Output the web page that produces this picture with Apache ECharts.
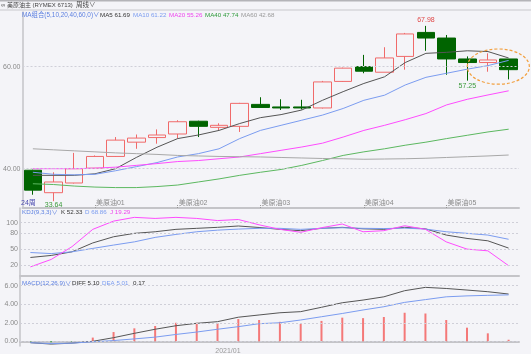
<!DOCTYPE html>
<html>
<head>
<meta charset="utf-8">
<script src="https://cdn.jsdelivr.net/npm/echarts@6/dist/echarts.min.js"></script>
<style>
  html, body { margin: 0; padding: 0; background: #f4f4f8; }
  #chart { width: 531px; height: 354px; }
</style>
</head>
<body>
<div id="chart"></div>
<script>
// 24 weekly bars
const weeks = ['W01','W02','W03','W04','W05','W06','W07','W08','W09','W10','W11','W12',
               'W13','W14','W15','W16','W17','W18','W19','W20','W21','W22','W23','W24']
const monthLabels = ['','','','美原油01','','','','美原油02','','','','美原油03',
                     '','','','','美原油04','','','','美原油05','','','']

const opens  = [39.7, 35.3, 37.2, 40.1, 42.4, 45.2, 46.1, 46.8, 49.3, 48.1, 48.3, 52.6,
                52.1, 52.1, 51.9, 57.1, 60.0, 58.9, 62.0, 66.7, 65.6, 61.5, 60.8, 61.5]
const closes = [35.8, 37.4, 40.0, 42.4, 45.6, 46.0, 46.6, 49.2, 48.3, 48.5, 52.8, 52.0,
                51.9, 51.9, 57.0, 59.7, 59.1, 61.7, 66.4, 65.6, 61.5, 60.8, 61.3, 59.4]
const lows   = [34.9, 33.64, 37.1, 40.0, 42.3, 43.9, 44.9, 45.9, 46.2, 47.5, 47.2, 52.0,
                51.5, 51.6, 51.8, 57.0, 58.7, 58.9, 59.4, 63.1, 58.4, 57.25, 59.0, 57.5]
const highs  = [39.8, 39.3, 43.1, 42.6, 46.2, 46.7, 47.7, 49.5, 49.4, 48.9, 52.9, 54.0,
                53.6, 53.5, 57.2, 59.8, 62.3, 63.8, 66.6, 67.98, 66.2, 62.0, 62.6, 61.5]

const ma5  = [38.7, 38.7, 38.7, 39.0, 40.0, 42.2, 44.2, 45.9, 46.6, 47.5, 48.85, 50.0,
              50.6, 51.5, 53.4, 55.1, 56.7, 58.0, 60.8, 62.6, 62.8, 63.1, 62.95, 61.69]
const ma10 = [39.3, 38.9, 38.8, 38.9, 39.6, 40.4, 41.2, 42.3, 42.95, 43.9, 45.9, 47.5,
              48.5, 49.5, 50.5, 51.8, 53.4, 54.4, 56.4, 57.9, 58.7, 59.5, 60.2, 61.22]
const ma20 = [40.0, 40.0, 40.0, 40.1, 40.3, 40.65, 41.0, 41.4, 41.6, 41.95, 42.3, 42.95,
              43.6, 44.25, 45.0, 46.2, 47.5, 48.5, 49.6, 50.8, 52.5, 53.6, 54.45, 55.26]
const ma40 = [37.05, 36.9, 36.6, 36.4, 36.3, 36.3, 36.5, 36.8, 37.4, 38.0, 38.7, 39.3,
              39.85, 40.65, 41.6, 42.6, 43.3, 43.9, 44.6, 45.2, 45.9, 46.55, 47.2, 47.74]
const ma60 = [43.9, 43.7, 43.5, 43.3, 43.1, 42.95, 42.8, 42.6, 42.5, 42.4, 42.35, 42.3,
              42.2, 42.1, 42.0, 41.95, 41.85, 41.9, 41.95, 42.05, 42.2, 42.35, 42.5, 42.68]

const kLine = [34.7, 38.5, 45.3, 62, 73.6, 80, 83, 87.5, 89.4, 91.3, 93.8, 91,
               87.5, 85, 89.4, 91.3, 88.5, 87.5, 91.3, 88.5, 76.8, 70.5, 66, 52.33]
const dLine = [44, 42, 45.3, 51.7, 58, 64, 72.4, 78, 83, 86, 88, 89.4,
               89.4, 87.5, 89.4, 90.5, 89.4, 89, 89.8, 88, 83, 80, 76.8, 68.86]
const jLine = [17, 31, 55, 87.5, 103, 110, 108, 110, 108, 104, 106, 96,
               87.5, 82, 90.6, 97.5, 83, 85, 94.3, 87.5, 64, 50.4, 47.2, 19.29]

const diff = [-0.15, -0.3, -0.2, 0, 0.39, 0.86, 1.3, 1.68, 1.94, 2.12, 2.6, 2.84,
              3.08, 3.2, 3.67, 4.16, 4.45, 4.8, 5.46, 5.82, 5.7, 5.53, 5.35, 5.10]
const dea  = [-0.15, -0.25, -0.2, -0.05, 0.08, 0.26, 0.45, 0.74, 1.0, 1.3, 1.58, 1.9,
              2.0, 2.3, 2.65, 3.0, 3.38, 3.73, 4.2, 4.5, 4.8, 4.9, 4.96, 5.01]
const macd = [-0.05, -0.1, -0.05, 0.4, 1.0, 1.4, 1.65, 2.0, 2.0, 1.95, 2.4, 2.3,
              2.1, 1.87, 2.2, 2.55, 2.5, 2.62, 3.08, 3.0, 2.3, 1.47, 0.86, 0.17]

const priceTicks = [40, 60]
const kdjTicks = [100, 80, 50, 20]
const macdTicks = [6, 4, 2, 0]

const FONT = '"Liberation Sans", "Noto Sans CJK SC", sans-serif'
const C_DARK = '#555555'
const C_BLUE = '#7b9cf0'
const C_PINK = '#ff4cff'
const C_GREEN = '#5cb860'
const C_GRAY = '#a8a8a8'
const C_UP = '#f06a6a'
const C_DOWN = '#006400'

const chart = echarts.init(document.getElementById('chart'), null, { width: 531, height: 354 })

function gridLines(ticks) {
  return {
    silent: true,
    symbol: 'none',
    label: { show: false },
    lineStyle: { color: '#cfcfd8', type: [2, 2], width: 1 },
    data: ticks.map((v) => ({ yAxis: v })),
  }
}

function line(name, data, color, axis, extra) {
  return Object.assign({
    name, type: 'line', data,
    xAxisIndex: axis, yAxisIndex: axis,
    showSymbol: false, smooth: false, z: 4,
    lineStyle: { color, width: 1 },
    itemStyle: { color },
  }, extra || {})
}

function yAxis(i, min, max, ticks, fmt) {
  return {
    type: 'value', gridIndex: i, min, max,
    axisLine: { show: true, lineStyle: { color: '#c4c4c8', width: 1.5 } },
    axisTick: { show: false },
    splitLine: { show: false },
    axisLabel: {
      customValues: ticks, color: '#8a8a8a', fontSize: 7, fontFamily: FONT, margin: 2,
      formatter: fmt,
    },
  }
}

function xAxis(i, withLabels) {
  return {
    type: 'category', gridIndex: i, data: weeks, boundaryGap: true,
    axisLine: { show: true, lineStyle: { color: '#c4c4c8', width: 2 } },
    axisTick: withLabels ? {
      show: true, inside: true, alignWithLabel: true, length: 4,
      interval: (idx) => monthLabels[idx] !== '',
      lineStyle: { color: '#999', type: [1, 1] },
    } : { show: false },
    axisLabel: withLabels ? {
      inside: true, interval: 0, align: 'left', color: '#8a8a8a', fontSize: 7,
      fontFamily: FONT, margin: 1, padding: [0, 0, 0, 1],
      formatter: (v, idx) => monthLabels[idx],
    } : { show: false },
  }
}

const option = {
  backgroundColor: '#f4f4f8',
  animation: false,
  grid: [
    { left: 20, right: 12, top: 12, height: 196 },
    { left: 20, right: 12, top: 208, height: 70 },
    { left: 20, right: 12, top: 278, height: 68 },
  ],
  xAxis: [xAxis(0, true), xAxis(1, false), xAxis(2, false)],
  yAxis: [
    yAxis(0, 32.3, 70.7, priceTicks, (v) => v.toFixed(2)),
    yAxis(1, -3.85, 127.6, kdjTicks, (v) => String(v)),
    yAxis(2, -0.507, 6.83, macdTicks, (v) => v.toFixed(2)),
  ],
  series: [
    {
      name: 'K', type: 'candlestick', xAxisIndex: 0, yAxisIndex: 0, z: 2,
      data: opens.map((o, i) => [o, closes[i], lows[i], highs[i]]),
      barWidth: 18,
      itemStyle: {
        color: 'rgba(0,0,0,0)', color0: C_DOWN,
        borderColor: C_UP, borderColor0: C_DOWN, borderWidth: 1,
      },
      markLine: gridLines(priceTicks),
      markPoint: {
        symbol: 'circle', symbolSize: 1,
        itemStyle: { color: 'rgba(0,0,0,0)' },
        label: { fontSize: 7, fontFamily: FONT },
        data: [
          { coord: [19, highs[19]], value: highs[19],
            label: { position: 'top', distance: 2, color: '#e04848', formatter: highs[19].toFixed(2) } },
          { coord: [21, lows[21]], value: lows[21],
            label: { position: 'bottom', distance: 1, color: '#3a9a3a', formatter: lows[21].toFixed(2) } },
          { coord: [1, lows[1]], value: lows[1],
            label: { position: 'bottom', distance: 0, color: '#3a9a3a', formatter: lows[1].toFixed(2) } },
        ],
      },
    },
    line('MA5', ma5, C_DARK, 0),
    line('MA10', ma10, C_BLUE, 0),
    line('MA20', ma20, C_PINK, 0),
    line('MA40', ma40, C_GREEN, 0),
    line('MA60', ma60, C_GRAY, 0),
    line('K', kLine, C_DARK, 1, { markLine: gridLines(kdjTicks) }),
    line('D', dLine, C_BLUE, 1),
    line('J', jLine, C_PINK, 1),
    {
      name: 'MACD', type: 'bar', xAxisIndex: 2, yAxisIndex: 2, data: macd, barWidth: 2,
      itemStyle: { color: (p) => (p.value >= 0 ? '#f47878' : '#2e9a3a') },
      markLine: gridLines(macdTicks),
    },
    line('DIFF', diff, C_DARK, 2),
    line('DEA', dea, C_BLUE, 2),
  ],
}

chart.setOption(option)

// text overlays and the dashed highlight ring
function txt(x, y, text, fill, size, align) {
  return {
    type: 'text', x, y, z: 10, silent: true,
    style: { text, fill, fontSize: size || 7, fontFamily: FONT, align: align || 'left', verticalAlign: 'middle' },
  }
}

const p22 = chart.convertToPixel({ xAxisIndex: 0, yAxisIndex: 0 }, [22, 60])
const p23 = chart.convertToPixel({ xAxisIndex: 0, yAxisIndex: 0 }, [23, 63.45])
const band = p23[0] - p22[0]
const p9 = chart.convertToPixel({ xAxisIndex: 2 }, 9)
const p10 = chart.convertToPixel({ xAxisIndex: 2 }, 10)

const graphics = [
  { type: 'rect', shape: { x: 0, y: 0, width: 531, height: 1.5 }, style: { fill: '#b4b4b8' }, silent: true },
  { type: 'rect', shape: { x: 0, y: 9.5, width: 531, height: 1 }, style: { fill: '#c8c8cc' }, silent: true },
  txt(1, 5.5, '∞ 美原油主 (RYMEX 6713)', '#444', 6),
  txt(76, 5.5, '周线∨', '#444', 6.5),
  txt(22, 15, 'MA组合(5,10,20,40,60,0)∨', '#5b7fe0', 6.4),
  txt(100, 15, 'MA5 61.69', '#333', 6.2),
  txt(133, 15, 'MA10 61.22', C_BLUE, 6.2),
  txt(169, 15, 'MA20 55.26', '#ee44ee', 6.2),
  txt(205, 15, 'MA40 47.74', '#2e9a3a', 6.2),
  txt(241, 15, 'MA60 42.68', '#999', 6.2),
  txt(21, 203.5, '24周', '#4b4bb0'),
  txt(22, 212.5, 'KDJ(9,3,3)∨', '#5b7fe0', 6.2),
  txt(61, 212.5, 'K 52.33', '#333', 6.2),
  txt(85, 212.5, 'D 68.86', C_BLUE, 6.2),
  txt(110, 212.5, 'J 19.29', '#ee44ee', 6.2),
  txt(22, 283, 'MACD(12,26,9)∨', '#5b7fe0', 6.2),
  txt(72, 283, 'DIFF 5.10', '#333', 6.2),
  txt(102, 283, 'DEA 5.01', C_BLUE, 6.2),
  txt(133, 283, '0.17', '#333', 6.2),
  txt((p9 + p10) / 2, 351, '2021/01', '#999', 7, 'center'),
  {
    type: 'ellipse', z: 10, silent: true,
    shape: { cx: (p22[0] + p23[0]) / 2, cy: p22[1], rx: band * 1.5, ry: p22[1] - p23[1] },
    style: { fill: 'none', stroke: '#f2a040', lineWidth: 1.2, lineDash: [3, 2] },
  },
]

chart.setOption({ graphic: graphics })
</script>
</body>
</html>
